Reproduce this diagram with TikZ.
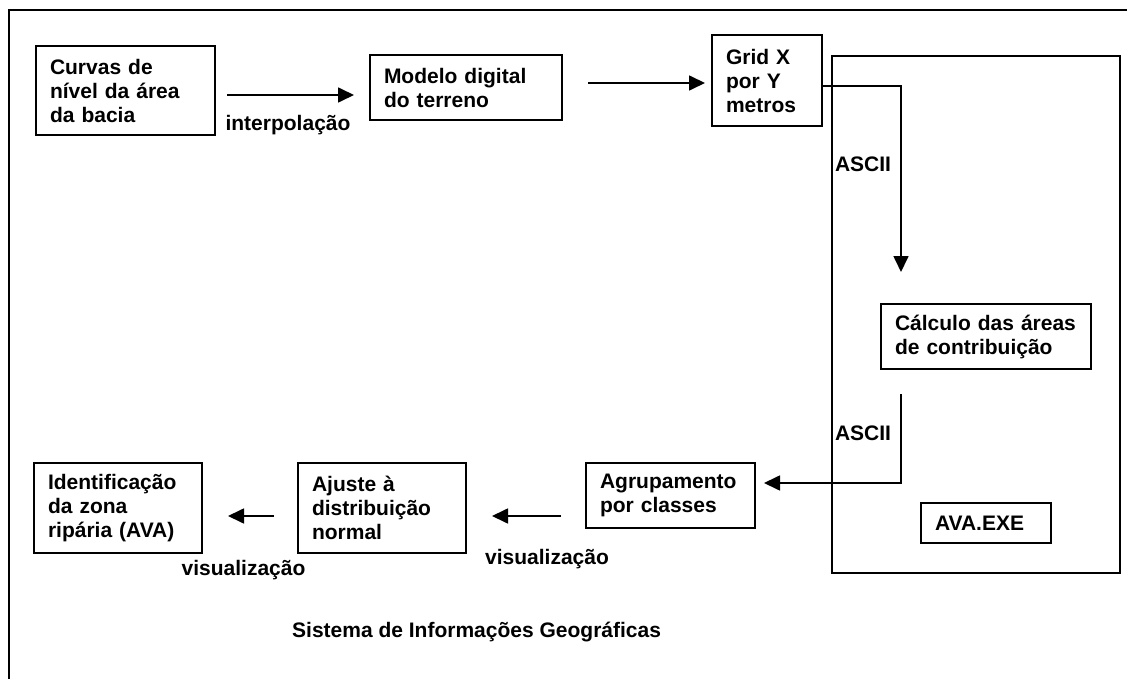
\documentclass[tikz,border=0pt]{standalone}
\usepackage{fontspec}
\setmainfont{Liberation Sans}
\usetikzlibrary{arrows.meta}
\begin{document}
\begin{tikzpicture}[x=1pt, y=-1pt,
		every node/.style={font=\fontsize{21}{24}\selectfont\bfseries},
		caixa/.style={draw, line width=2pt, align=left, inner xsep=14pt, inner ysep=0pt},
		seta/.style={line width=1.7pt, -{Triangle[length=16pt,width=15pt]}}]
		\useasboundingbox (0,0) rectangle (1127,679);
		\draw[line width=1.5pt] (9,679) -- (9,10) -- (1127,10);
		\draw[line width=2pt] (832,56) rectangle (1120,573);
		\node[caixa, text width=151pt, minimum height=89pt] (curvas) at (125.5,90.5) {Curvas de\\nível da área\\da bacia};
		\node[caixa, text width=164pt, minimum height=65pt] (modelo) at (466,87.5) {Modelo digital\\do terreno};
		\node[caixa, text width=82pt, minimum height=91pt] (grid) at (767,80.5) {Grid X\\por Y\\metros};
		\node[caixa, text width=182pt, minimum height=65pt] (calculo) at (986,336.5) {Cálculo das áreas\\de contribuição};
		\node[caixa, text width=102pt, minimum height=40pt] (avaexe) at (986,523) {AVA.EXE};
		\node[caixa, text width=141pt, minimum height=65pt] (agrup) at (670.5,495.5) {Agrupamento\\por classes};
		\node[caixa, text width=140pt, minimum height=90pt] (ajuste) at (382,508) {Ajuste à\\distribuição\\normal};
		\node[caixa, text width=140pt, minimum height=90pt] (ident) at (118,508) {Identificação\\da zona\\ripária (AVA)};
		\draw[seta] ([xshift=11pt,yshift=-4.5pt]curvas.east) -- ([xshift=-15pt,yshift=-7.5pt]modelo.west);
		\draw[seta] ([xshift=25pt,yshift=4.5pt]modelo.east) -- ([xshift=-6pt,yshift=-2.5pt]grid.west);
		\draw[seta] ([yshift=-5.5pt]grid.east) -| ([xshift=21pt,yshift=31pt]calculo.north west);
		\draw[seta] ([xshift=21pt,yshift=-24pt]calculo.south west) |- ([xshift=8pt,yshift=12.5pt]agrup.east);
		\draw[seta] ([xshift=-24pt,yshift=-20.5pt]agrup.west) -- ([xshift=25pt,yshift=-8pt]ajuste.east);
		\draw[seta] ([xshift=-23pt,yshift=-8pt]ajuste.west) -- ([xshift=25pt,yshift=-8pt]ident.east);
		\node (interp) at (288,125) {interpolação};
		\node (ascii1) at (863,164) {ASCII};
		\node (ascii2) at (863,433) {ASCII};
		\node (visual1) at (243.5,570) {visualização};
		\node (visual2) at (547,559) {visualização};
		\node[anchor=west, inner sep=0pt] (sig) at (292,632) {Sistema de Informações Geográficas};
\end{tikzpicture}
\end{document}
